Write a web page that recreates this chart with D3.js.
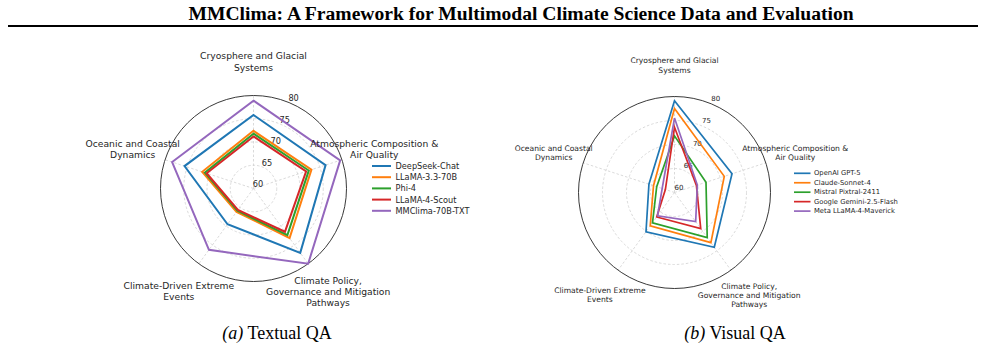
<!DOCTYPE html>
<html>
<head>
<meta charset="utf-8">
<script src="https://cdn.jsdelivr.net/npm/d3@7/dist/d3.min.js"></script>
<style>
  body { margin: 0; background: #fff; }
  svg { display: block; }
  .title { font-family: "Liberation Serif", "DejaVu Serif", serif; font-weight: bold; }
  .caption { font-family: "Liberation Serif", "DejaVu Serif", serif; }
  .radar text { font-family: "DejaVu Sans", sans-serif; fill: #262626; }
</style>
</head>
<body>
<svg id="chart" width="985" height="349"></svg>
<script>
// 两个雷达图：文本问答 vs 视觉问答，五个气候领域的得分。

const dimensionLabels = [
  ["Cryosphere and Glacial", "Systems"],
  ["Atmospheric Composition &", "Air Quality"],
  ["Climate Policy,", "Governance and Mitigation", "Pathways"],
  ["Climate-Driven Extreme", "Events"],
  ["Oceanic and Coastal", "Dynamics"],
];
const radialTicks = [60, 65, 70, 75, 80];
const seriesColors = ["#1f77b4", "#ff7f0e", "#2ca02c", "#d62728", "#9467bd"];

const textualModels = ["DeepSeek-Chat", "LLaMA-3.3-70B", "Phi-4", "LLaMA-4-Scout", "MMClima-70B-TXT"];
const textualScores = [
  [75.8, 76.3, 77.1, 69.5, 75.6],
  [72.4, 73.1, 73.2, 66.2, 71.6],
  [71.8, 72.5, 72.4, 65.9, 71.0],
  [71.2, 71.9, 71.5, 65.7, 70.6],
  [78.9, 79.6, 80.0, 76.3, 78.4],
];

const visualModels = ["OpenAI GPT-5", "Claude-Sonnet-4", "Mistral Pixtral-2411", "Google Gemini-2.5-Flash", "Meta LLaMA-4-Maverick"];
const visualScores = [
  [79.1, 72.6, 74.1, 70.1, 65.6],
  [77.5, 70.9, 72.9, 68.6, 64.6],
  [71.8, 66.9, 71.6, 67.8, 63.9],
  [73.6, 64.8, 69.3, 66.3, 62.0],
  [75.5, 65.0, 67.5, 66.0, 62.7],
];

const svg = d3.select("#chart");

svg.append("text")
  .attr("class", "title")
  .attr("x", 521)
  .attr("y", 20)
  .attr("text-anchor", "middle")
  .attr("font-size", 19.6)
  .text("MMClima: A Framework for Multimodal Climate Science Data and Evaluation");

svg.append("line")
  .attr("x1", 8).attr("x2", 978)
  .attr("y1", 26).attr("y2", 26)
  .attr("stroke", "#000")
  .attr("stroke-width", 2);

function drawRadar(opts) {
  const { cx, cy, R, models, scores, labelSize, tickSize, lineWidth, labelGap, legend } = opts;
  const g = svg.append("g").attr("class", "radar").attr("transform", `translate(${cx},${cy})`);

  const r = d3.scaleLinear().domain([60, 80]).range([0, R]);
  const angle = d3.scaleLinear().domain([0, dimensionLabels.length]).range([0, 2 * Math.PI]);
  const px = (a, rad) => rad * Math.sin(a);
  const py = (a, rad) => -rad * Math.cos(a);

  // grid rings
  g.selectAll(".ring")
    .data(radialTicks.filter((t) => t > 60 && t < 80))
    .join("circle")
    .attr("class", "ring")
    .attr("r", (d) => r(d))
    .attr("fill", "none")
    .attr("stroke", "#d0d0d0")
    .attr("stroke-width", 0.8)
    .attr("stroke-dasharray", "2.5,2");

  // spokes
  g.selectAll(".spoke")
    .data(dimensionLabels.map((_, i) => i))
    .join("line")
    .attr("class", "spoke")
    .attr("x1", 0).attr("y1", 0)
    .attr("x2", (i) => px(angle(i), R))
    .attr("y2", (i) => py(angle(i), R))
    .attr("stroke", "#d0d0d0")
    .attr("stroke-width", 0.8)
    .attr("stroke-dasharray", "2.5,2");

  // outer spine
  g.append("circle")
    .attr("r", R)
    .attr("fill", "none")
    .attr("stroke", "#222")
    .attr("stroke-width", 0.9);

  // radial tick labels at 22.5°
  const tickAngle = Math.PI / 8;
  g.selectAll(".rtick")
    .data(radialTicks)
    .join("text")
    .attr("class", "rtick")
    .attr("x", (d) => px(tickAngle, r(d)) + 4.5)
    .attr("y", (d) => py(tickAngle, r(d)) - 4.5)
    .attr("text-anchor", "middle")
    .attr("dominant-baseline", "central")
    .attr("font-size", tickSize)
    .text((d) => d);

  // series
  const line = d3.lineRadial()
    .angle((d, i) => angle(i))
    .radius((d) => r(d))
    .curve(d3.curveLinearClosed);

  g.selectAll(".series")
    .data(scores)
    .join("path")
    .attr("class", "series")
    .attr("d", (d) => line(d))
    .attr("fill", "none")
    .attr("stroke", (d, i) => seriesColors[i])
    .attr("stroke-width", lineWidth)
    .attr("stroke-linejoin", "miter");

  // axis labels
  const lh = labelSize * 1.2;
  dimensionLabels.forEach((lines, i) => {
    const a = angle(i);
    const lx = px(a, R + labelGap);
    const ly = py(a, R + labelGap);
    const t = g.append("text")
      .attr("text-anchor", "middle")
      .attr("font-size", labelSize);
    lines.forEach((s, k) => {
      t.append("tspan")
        .attr("x", lx)
        .attr("y", ly + (k - (lines.length - 1) / 2) * lh)
        .attr("dominant-baseline", "central")
        .text(s);
    });
  });

  // legend
  const lg = svg.append("g").attr("class", "radar")
    .attr("transform", `translate(${legend.x},${legend.y})`);
  models.forEach((m, i) => {
    const row = lg.append("g").attr("transform", `translate(0,${i * legend.step})`);
    row.append("line")
      .attr("x1", 0).attr("x2", legend.len)
      .attr("y1", 0).attr("y2", 0)
      .attr("stroke", seriesColors[i])
      .attr("stroke-width", lineWidth);
    row.append("text")
      .attr("x", legend.len + legend.pad)
      .attr("y", 0)
      .attr("dominant-baseline", "central")
      .attr("font-size", legend.size)
      .text(m);
  });
}

drawRadar({
  cx: 253.5, cy: 188.5, R: 93,
  models: textualModels, scores: textualScores,
  labelSize: 9.2, tickSize: 8.2, lineWidth: 2, labelGap: 34,
  legend: { x: 372, y: 166, step: 11.2, len: 19, pad: 4.5, size: 8.2 },
});

drawRadar({
  cx: 674.5, cy: 192.5, R: 96,
  models: visualModels, scores: visualScores,
  labelSize: 7.6, tickSize: 7, lineWidth: 1.7, labelGap: 31,
  legend: { x: 794, y: 173.3, step: 9.45, len: 16.5, pad: 3.5, size: 6.8 },
});

// captions
function caption(x, tag, label) {
  const t = svg.append("text")
    .attr("class", "caption")
    .attr("x", x)
    .attr("y", 339)
    .attr("text-anchor", "middle")
    .attr("font-size", 18);
  t.append("tspan").attr("font-style", "italic").text(tag);
  t.append("tspan").text(" " + label);
}
caption(277, "(a)", "Textual QA");
caption(735, "(b)", "Visual QA");
</script>
</body>
</html>
